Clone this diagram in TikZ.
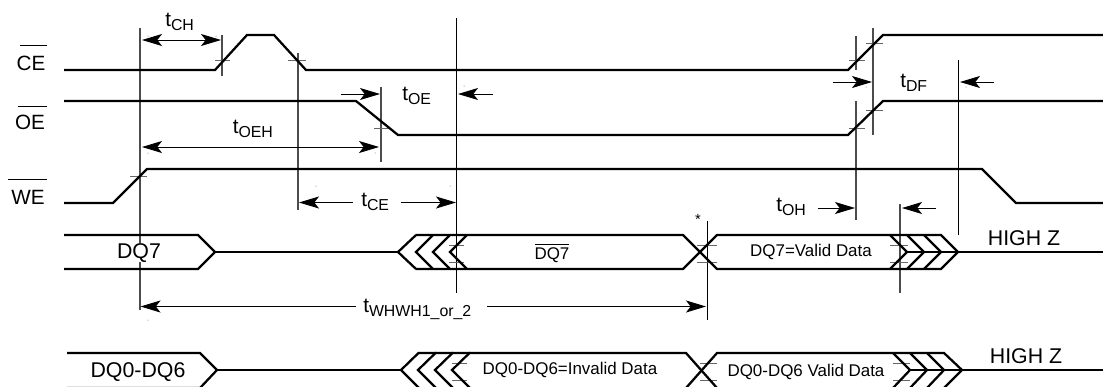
\documentclass[tikz,border=0pt]{standalone}
\usepackage{fontspec}
\setmainfont{Liberation Sans}
\usetikzlibrary{arrows.meta}
\newcommand\tsub[1]{{\fontsize{15.5pt}{16pt}\selectfont t\raisebox{-3.7pt}{\fontsize{11.9pt}{12pt}\selectfont #1}}}
\tikzset{
  sig/.style={line width=1.7pt,line join=miter,black},
  guide/.style={line width=.8pt,black!70},
  guidek/.style={line width=.75pt,black},
  tick/.style={line width=.7pt,black!60},
  bar/.style={line width=.7pt,black},
  speck/.style={fill=black!60,draw=none},
  dim/.style={line width=.7pt,black,-{Stealth[length=15pt,width=9pt,inset=3.5pt]}},
  dimb/.style={line width=.7pt,black,{Stealth[length=15pt,width=9pt,inset=3.5pt]}-{Stealth[length=15pt,width=9pt,inset=3.5pt]}},
  lab/.style={anchor=base,inner sep=0pt,font=\fontsize{15.5pt}{16pt}\selectfont},
  big/.style={anchor=base,inner sep=0pt,font=\fontsize{16pt}{17pt}\selectfont},
  small/.style={anchor=base,inner sep=0pt,font=\fontsize{12.7pt}{13pt}\selectfont},
  tl/.style={anchor=base west,inner sep=0pt},
}
\begin{document}
\begin{tikzpicture}[x=0.75pt,y=-0.75pt]
\clip (0,0) rectangle (1103,386);
\path[use as bounding box] (0,0) rectangle (1103,386);
% guides
\draw[guide] (140,28) -- (140,310);
\draw[guide] (222,35) -- (222,76);
\draw[guide] (298,53) -- (298,210);
\draw[guide] (381,87) -- (381,162);
\draw[guidek] (456.5,18) -- (456.5,293);
\draw[guidek] (707.5,221) -- (707.5,320);
\draw[guide] (856,36) -- (856,70);
\draw[guide] (856,101) -- (856,220);
\draw[guide] (873,28) -- (873,135);
\draw[guidek] (958.5,60) -- (958.5,235);
\draw[guide] (900,204) -- (900,293);
% ticks
\foreach \a/\b/\y in {215/230/60,288/306/60,374/390/128,130/147/176,
  449/464/245,449/464/262,697/717/245,697/717/262,
  452/467/363,452/467/380,700/717/363,700/717/380,
  849/865/60,849/865/128,866/883/43,866/883/110,
  890/908/245,890/908/262,893/910/363,893/910/380}
  \draw[tick] (\a,\y) -- (\b,\y);
% specks
\foreach \x/\y in {148/36,216/36,148/153,375/153,316/186,450/186,464/86,866/87,966/87,148/320}
  \fill[speck] (\x,\y) circle (.5);
% signals
\draw[sig] (64,70) -- (215,70) -- (247,35) -- (274,35) -- (306,70) -- (848,70) -- (883,35) -- (1103,35);
\draw[sig] (64,101) -- (356,101) -- (398,135) -- (848,135) -- (883,101) -- (1103,101);
\draw[sig] (64,203) -- (113,203) -- (147,169) -- (982,169) -- (1016,203) -- (1103,203);
% DQ7
\draw[sig] (64,235) -- (198,235) -- (215,252) -- (198,269) -- (64,269);
\draw[sig] (215,252) -- (398,252);
\draw[sig] (416,235) -- (398,252) -- (416,269);
\draw[sig] (433,235) -- (416,252) -- (433,269);
\draw[sig] (450,235) -- (433,252) -- (450,269);
\draw[sig] (467,235) -- (450,252) -- (467,269);
\draw[sig] (416,235) -- (683,235) -- (717,269) -- (890,269);
\draw[sig] (416,269) -- (683,269) -- (717,235) -- (890,235);
\draw[sig] (890,235) -- (907,252) -- (890,269);
\draw[sig] (907,235) -- (924,252) -- (907,269);
\draw[sig] (924,235) -- (941,252) -- (924,269);
\draw[sig] (890,235) -- (941,235) -- (958,252) -- (941,269) -- (890,269);
\draw[sig] (907,252) -- (1103,252);
% DQ0-6
\draw[sig] (67,353) -- (200,353) -- (217,370) -- (200,388) -- (67,388);
\draw[sig] (217,370) -- (401,370);
\draw[sig] (419,352.5) -- (401,370) -- (419,388);
\draw[sig] (436,352.5) -- (418,370) -- (436,388);
\draw[sig] (453,352.5) -- (435,370) -- (453,388);
\draw[sig] (470,352.5) -- (452,370) -- (470,388);
\draw[sig] (419,353) -- (686,353) -- (717,388);
\draw[sig] (686,388) -- (717,353) -- (893,353);
\draw[sig] (893,353) -- (910,370) -- (893,388);
\draw[sig] (910,353) -- (927,370) -- (910,388);
\draw[sig] (927,353) -- (944,370) -- (927,388);
\draw[sig] (893,353) -- (944,353) -- (962,370) -- (944,388);
\draw[sig] (910,370) -- (1103,370);
% dimension arrows
\draw[dimb] (142,40) -- (221,40);
\draw[dimb] (142,147) -- (379,147);
\draw[dim] (341,94) -- (380,94);
\draw[dim] (493,94) -- (458,94);
\draw[dim] (353,202.5) -- (299,202.5);
\draw[dim] (401,202.5) -- (456,202.5);
\draw[dim] (833,82) -- (872,82);
\draw[dim] (994,82) -- (960,82);
\draw[dim] (818,208) -- (855,208);
\draw[dim] (936,208) -- (902,208);
\draw[dim] (356,306.5) -- (140.5,306.5);
\draw[dim] (487,306.5) -- (706,306.5);
% overbars
\draw[bar] (20,45) -- (46.5,45);
\draw[bar] (18,106) -- (46.5,106);
\draw[bar] (8,179) -- (46.5,179);
\draw[bar] (535,244) -- (569,244);
% labels
\node[lab] (ce) at (31,70) {CE};
\node[lab] (oe) at (30,129) {OE};
\node[lab] (we) at (28,204) {WE};
\node[big,fill=white] (dqs) at (139,258) {DQ7};
\node[big] (dq06) at (138,377) {DQ0-DQ6};
\node[small] (dqb) at (552,259) {DQ7};
\node[small] (dqv) at (811,256) {DQ7=Valid Data};
\node[small] (inv) at (570,374) {DQ0-DQ6=Invalid Data};
\node[small] (val) at (806,376) {DQ0-DQ6 Valid Data};
\node[big] (hz1) at (1024,245) {HIGH Z};
\node[big] (hz2) at (1026,363) {HIGH Z};
\node[tl] (tch) at (165,26) {\tsub{CH}};
\node[tl] (toeh) at (232.5,133) {\tsub{OEH}};
\node[tl] (toe) at (402,100) {\tsub{OE}};
\node[tl] (tce) at (361,206) {\tsub{CE}};
\node[tl] (tdf) at (900,87) {\tsub{DF}};
\node[tl] (toh) at (776,211) {\tsub{OH}};
\node[tl] (twh) at (363,312) {\tsub{WHWH1\_or\_2}};
\node[inner sep=0pt,font=\fontsize{11pt}{11pt}\selectfont] (star) at (698,219) {*};
\end{tikzpicture}
\end{document}
